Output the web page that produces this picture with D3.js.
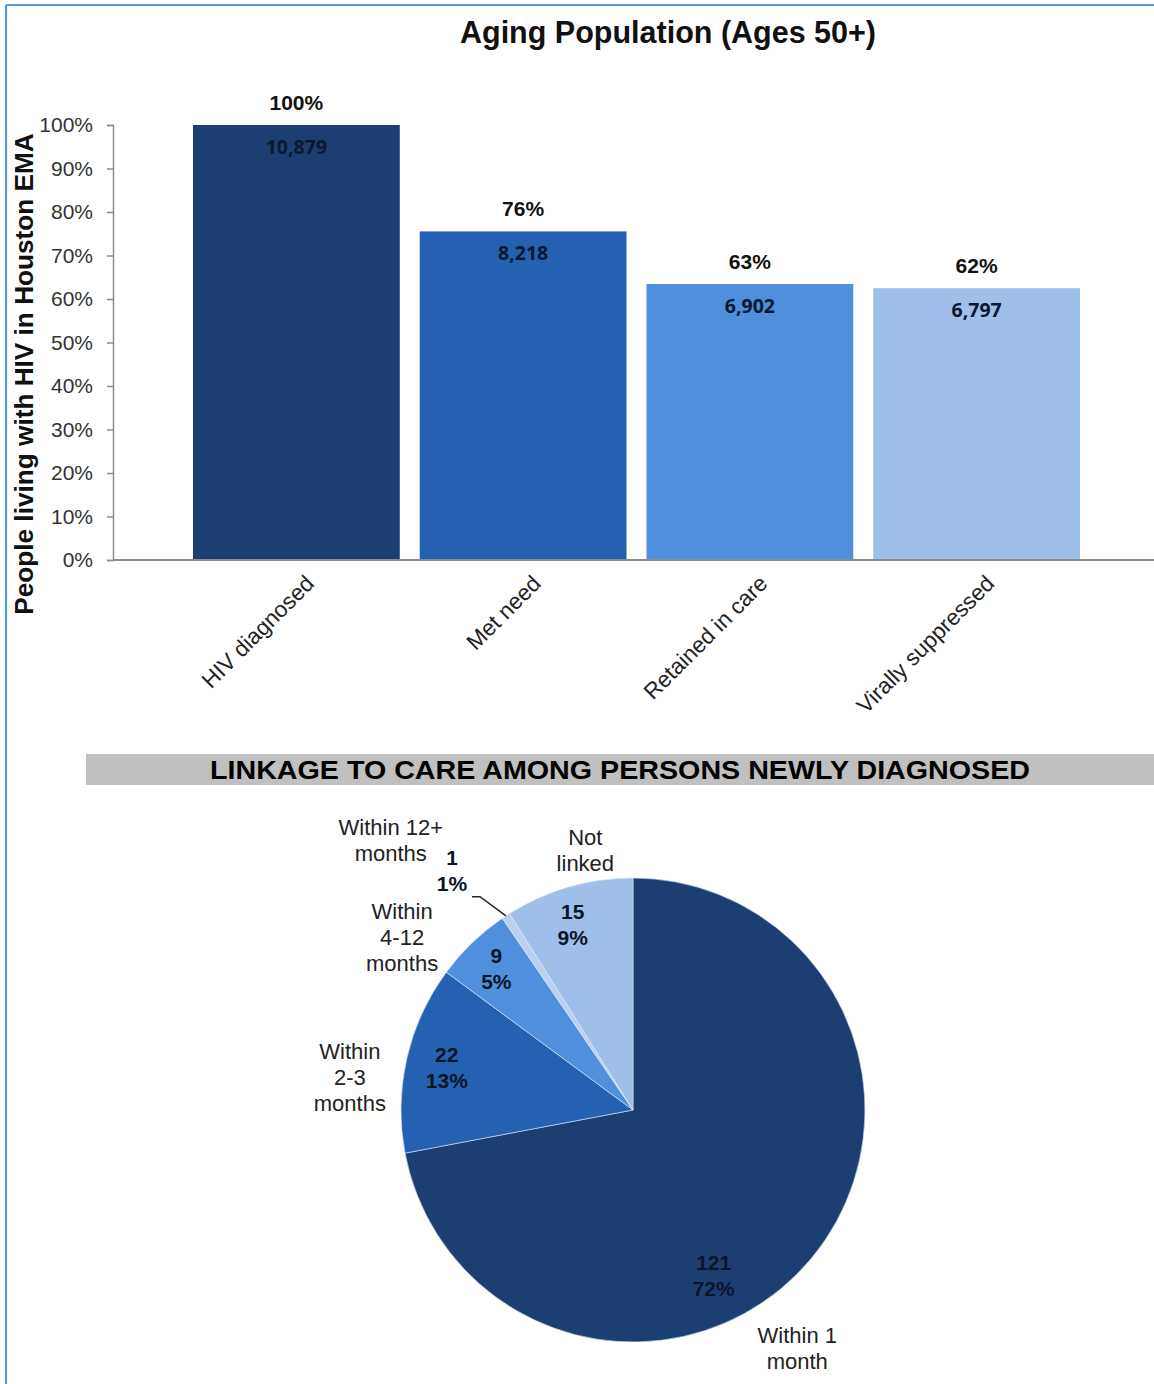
<!DOCTYPE html>
<html>
<head>
<meta charset="utf-8">
<script src="https://cdn.jsdelivr.net/npm/d3@7"></script>
<style>
  html, body { margin: 0; padding: 0; background: #fff; }
  svg { display: block; }
</style>
</head>
<body>
<svg id="chart" width="1154" height="1384"></svg>
<script>
// ---- Care continuum, ages 50+ ----
const categories = ["HIV diagnosed", "Met need", "Retained in care", "Virally suppressed"];
const counts = [10879, 8218, 6902, 6797];
const yTickValues = [0, 10, 20, 30, 40, 50, 60, 70, 80, 90, 100];

// ---- Linkage to care among persons newly diagnosed ----
const linkageGroups = ["Within 1 month", "Within 2-3 months", "Within 4-12 months", "Within 12+ months", "Not linked"];
const linkageCounts = [121, 22, 9, 1, 15];
const linkageLabelLines = [["Within 1", "month"], ["Within", "2-3", "months"], ["Within", "4-12", "months"], ["Within 12+", "months"], ["Not", "linked"]];

const barColors = ["#1b3f73", "#2461b0", "#4f8fdc", "#9dbfe9"];
const pieColors = ["#1b3f73", "#2461b0", "#4f8fdc", "#b9d1f0", "#9dbfe9"];

const FONT = "'Liberation Sans', Arial, sans-serif";
const svg = d3.select("#chart");

// frame lines along the top and left
svg.append("line").attr("x1", 6).attr("x2", 1154).attr("y1", 5).attr("y2", 5)
  .attr("stroke", "#5b9bd5").attr("stroke-width", 2.2);
svg.append("line").attr("x1", 6).attr("x2", 6).attr("y1", 5).attr("y2", 1384)
  .attr("stroke", "#5b9bd5").attr("stroke-width", 2.2);

// ================= Bar chart =================
const y = d3.scaleLinear().domain([0, 100]).range([560, 125]);
const x = d3.scaleBand().domain(categories).range([183, 1090])
  .paddingInner(0.088).paddingOuter(0.044);

const total = counts[0];
const barData = categories.map((c, i) => ({ cat: c, count: counts[i], pct: counts[i] / total * 100 }));

svg.append("text")
  .attr("x", 668).attr("y", 43)
  .attr("text-anchor", "middle")
  .attr("font-family", FONT).attr("font-weight", "bold").attr("font-size", 30.5)
  .attr("fill", "#111")
  .text("Aging Population (Ages 50+)");

// y axis
const yAxis = d3.axisLeft(y).tickValues(yTickValues).tickFormat(d => d + "%").tickSize(6).tickPadding(14);
const yG = svg.append("g").attr("transform", "translate(113,0)").call(yAxis);
yG.select(".domain").attr("stroke", "#8c8c8c").attr("stroke-width", 1.5);
yG.selectAll(".tick line").attr("stroke", "#8c8c8c").attr("stroke-width", 1.5);
yG.selectAll(".tick text").attr("font-family", FONT).attr("font-size", 21).attr("fill", "#333");

svg.append("text")
  .attr("transform", "translate(33,374) rotate(-90)")
  .attr("text-anchor", "middle")
  .attr("font-family", FONT).attr("font-weight", "bold").attr("font-size", 26.2)
  .attr("fill", "#111")
  .text("People living with HIV in Houston EMA");

// bars
svg.append("g").selectAll("rect").data(barData).join("rect")
  .attr("x", d => x(d.cat))
  .attr("y", d => y(d.pct))
  .attr("width", x.bandwidth())
  .attr("height", d => y(0) - y(d.pct))
  .attr("fill", (d, i) => barColors[i]);

// baseline
svg.append("line").attr("x1", 113).attr("x2", 1154).attr("y1", y(0)).attr("y2", y(0))
  .attr("stroke", "#8c8c8c").attr("stroke-width", 2);

// percentage labels above bars
svg.append("g").selectAll("text").data(barData).join("text")
  .attr("x", d => x(d.cat) + x.bandwidth() / 2)
  .attr("y", d => y(d.pct) - 15)
  .attr("text-anchor", "middle")
  .attr("font-family", FONT).attr("font-weight", "bold").attr("font-size", 21)
  .attr("fill", "#111")
  .text(d => Math.round(d.pct) + "%");

// count labels inside bars
svg.append("g").selectAll("text").data(barData).join("text")
  .attr("x", d => x(d.cat) + x.bandwidth() / 2)
  .attr("y", d => y(d.pct) + 29)
  .attr("text-anchor", "middle")
  .attr("font-family", "'Open Sans', 'Noto Sans', sans-serif").attr("font-weight", 700).attr("font-size", 19.5)
  .attr("fill", "#0b1830")
  .text(d => d3.format(",")(d.count));

// rotated category labels
svg.append("g").selectAll("text").data(barData).join("text")
  .attr("transform", d => `translate(${x(d.cat) + x.bandwidth() / 2 + 19},${y(0) + 25}) rotate(-45)`)
  .attr("text-anchor", "end")
  .attr("font-family", FONT).attr("font-size", 22.5)
  .attr("fill", "#222")
  .text(d => d.cat);

// ================= Linkage banner =================
svg.append("rect").attr("x", 86).attr("y", 754).attr("width", 1068).attr("height", 31).attr("fill", "#c0c0c0");
svg.append("text")
  .attr("x", 620).attr("y", 779)
  .attr("text-anchor", "middle")
  .attr("font-family", FONT).attr("font-weight", "bold").attr("font-size", 26)
  .attr("textLength", 820).attr("lengthAdjust", "spacingAndGlyphs")
  .attr("fill", "#000")
  .text("LINKAGE TO CARE AMONG PERSONS NEWLY DIAGNOSED");

// ================= Pie =================
const cx = 633, cy = 1110, R = 232;
const linkTotal = d3.sum(linkageCounts);
const pieData = d3.pie().sort(null).value(d => d.count)(
  linkageGroups.map((g, i) => ({ group: g, count: linkageCounts[i], lines: linkageLabelLines[i] }))
);
const arc = d3.arc().innerRadius(0).outerRadius(R);
const pieG = svg.append("g").attr("transform", `translate(${cx},${cy})`);

pieG.selectAll("path").data(pieData).join("path")
  .attr("d", arc)
  .attr("fill", (d, i) => pieColors[i])
  .attr("stroke", "#dfe9f6").attr("stroke-width", 0.6);

// polar helper, angle in degrees clockwise from 12 o'clock
const polar = (deg, r) => {
  const a = deg * Math.PI / 180;
  return [r * Math.sin(a), -r * Math.cos(a)];
};
const midDeg = d => (d.startAngle + d.endAngle) / 2 * 180 / Math.PI;

// value label placement: [angle override or null, radius]
const valuePlacement = [[154, 184], [null, 191], [null, 197], [322.9, 300], [342, 195]];
// category label placement: [angle, radius]
const namePlacement = [[145.5, 290], [276.5, 285], [306.7, 288], [318, 362], [349.6, 264]];

const lineH = 26;
pieData.forEach((d, i) => {
  const vp = valuePlacement[i];
  const [vx, vy] = polar(vp[0] === null ? midDeg(d) : vp[0], vp[1]);
  const vt = pieG.append("text")
    .attr("text-anchor", "middle")
    .attr("font-family", FONT).attr("font-weight", "bold").attr("font-size", 21)
    .attr("fill", "#0b1528");
  const pct = Math.round(d.data.count / linkTotal * 100) + "%";
  [String(d.data.count), pct].forEach((t, k) => {
    vt.append("tspan").attr("x", vx).attr("y", vy - lineH / 2 + 7.5 + k * lineH).text(t);
  });

  const np = namePlacement[i];
  const [nx, ny] = polar(np[0], np[1]);
  const n = d.data.lines.length;
  const nt = pieG.append("text")
    .attr("text-anchor", "middle")
    .attr("font-family", FONT).attr("font-size", 22)
    .attr("fill", "#222");
  d.data.lines.forEach((t, k) => {
    nt.append("tspan").attr("x", nx).attr("y", ny - (n - 1) * lineH / 2 + 7.5 + k * lineH).text(t);
  });
});

// leader line for the smallest slice
const small = pieData[3];
const [ex, ey] = polar(midDeg(small), R);
const [sx, sy] = polar(valuePlacement[3][0], valuePlacement[3][1]);
pieG.append("path")
  .attr("d", `M${sx + 20},${sy + 26} L${sx + 28},${sy + 26} L${ex},${ey}`)
  .attr("fill", "none").attr("stroke", "#222").attr("stroke-width", 1.5);
</script>
</body>
</html>
